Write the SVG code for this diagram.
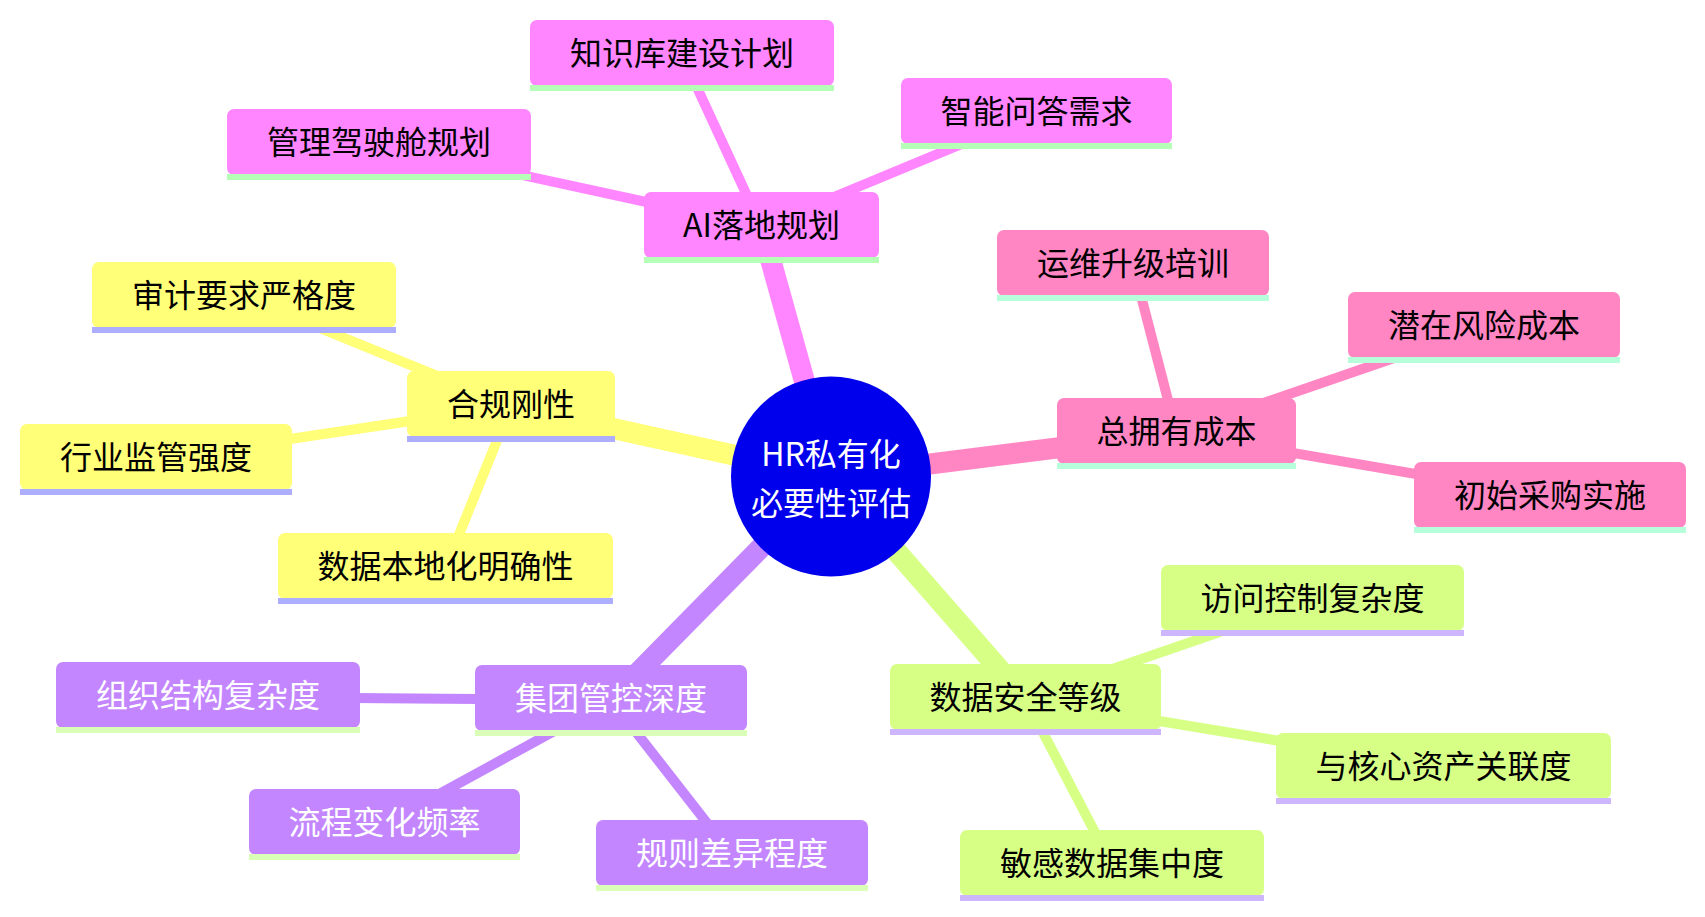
<svg xmlns="http://www.w3.org/2000/svg" width="1705" height="917" viewBox="0 0 1705 917">
<style>
text{font-family:"Noto Sans CJK SC","Noto Sans",sans-serif;font-size:32px;text-anchor:middle;dominant-baseline:central}
.e{fill:none;stroke-linecap:butt}
.e0{stroke-width:21}
.e1{stroke-width:10}
.ey{stroke:#FFFF78}.eg{stroke:#D7FF86}.ep{stroke:#C386FF}.em{stroke:#FF86FF}.ek{stroke:#FF86C3}
.y rect.b{fill:#FFFF78}.y rect.s{fill:#AEAEFF}.y text{fill:#000}
.g rect.b{fill:#D7FF86}.g rect.s{fill:#CEB6FF}.g text{fill:#000}
.p rect.b{fill:#C386FF}.p rect.s{fill:#DAFFB6}.p text{fill:#fff}
.m rect.b{fill:#FF86FF}.m rect.s{fill:#B6FFB6}.m text{fill:#000}
.k rect.b{fill:#FF86C3}.k rect.s{fill:#B6FFDA}.k text{fill:#000}
</style>
<rect width="1705" height="917" fill="#fff"/>
<g id="connectors">
<line class="e e1 em" x1="761.5" y1="227" x2="682" y2="55"/>
<line class="e e1 em" x1="761.5" y1="227" x2="1036.5" y2="113"/>
<line class="e e1 em" x1="761.5" y1="227" x2="379" y2="144"/>
<line class="e e1 ey" x1="511" y1="406" x2="244" y2="297"/>
<line class="e e1 ey" x1="511" y1="406" x2="156" y2="459"/>
<line class="e e1 ey" x1="511" y1="406" x2="445.5" y2="568"/>
<line class="e e1 ek" x1="1176.5" y1="433" x2="1133" y2="265"/>
<line class="e e1 ek" x1="1176.5" y1="433" x2="1484" y2="327"/>
<line class="e e1 ek" x1="1176.5" y1="433" x2="1550" y2="497"/>
<line class="e e1 eg" x1="1025.5" y1="699" x2="1312.5" y2="600"/>
<line class="e e1 eg" x1="1025.5" y1="699" x2="1443.5" y2="768"/>
<line class="e e1 eg" x1="1025.5" y1="699" x2="1112" y2="865"/>
<line class="e e1 ep" x1="611" y1="700" x2="208" y2="697"/>
<line class="e e1 ep" x1="611" y1="700" x2="384.5" y2="824"/>
<line class="e e1 ep" x1="611" y1="700" x2="732" y2="855"/>
<line class="e e0 em" x1="831" y1="476.5" x2="761.5" y2="227"/>
<line class="e e0 ey" x1="831" y1="476.5" x2="511" y2="406"/>
<line class="e e0 ek" x1="831" y1="476.5" x2="1176.5" y2="433"/>
<line class="e e0 eg" x1="831" y1="476.5" x2="1025.5" y2="699"/>
<line class="e e0 ep" x1="831" y1="476.5" x2="611" y2="700"/>
</g>
<g id="root">
<circle cx="831" cy="476.5" r="100" fill="#0000EC"/>
<text x="831" y="452" fill="#fff">HR私有化</text>
<text x="831" y="501" fill="#fff">必要性评估</text>
</g>
<g id="n-ai" class="m" transform="translate(644,192)"><rect class="b" width="235" height="66" rx="7"/><rect class="s" y="65" width="235" height="6"/><text x="117.5" y="31">AI落地规划</text></g>
<g id="n-kb" class="m" transform="translate(530,20)"><rect class="b" width="304" height="66" rx="7"/><rect class="s" y="65" width="304" height="6"/><text x="152" y="31">知识库建设计划</text></g>
<g id="n-qa" class="m" transform="translate(901,78)"><rect class="b" width="271" height="66" rx="7"/><rect class="s" y="65" width="271" height="6"/><text x="135.5" y="31">智能问答需求</text></g>
<g id="n-cockpit" class="m" transform="translate(227,109)"><rect class="b" width="304" height="66" rx="7"/><rect class="s" y="65" width="304" height="6"/><text x="152" y="31">管理驾驶舱规划</text></g>
<g id="n-comp" class="y" transform="translate(407,371)"><rect class="b" width="208" height="66" rx="7"/><rect class="s" y="65" width="208" height="6"/><text x="104" y="31">合规刚性</text></g>
<g id="n-audit" class="y" transform="translate(92,262)"><rect class="b" width="304" height="66" rx="7"/><rect class="s" y="65" width="304" height="6"/><text x="152" y="31">审计要求严格度</text></g>
<g id="n-reg" class="y" transform="translate(20,424)"><rect class="b" width="272" height="66" rx="7"/><rect class="s" y="65" width="272" height="6"/><text x="136" y="31">行业监管强度</text></g>
<g id="n-local" class="y" transform="translate(278,533)"><rect class="b" width="335" height="66" rx="7"/><rect class="s" y="65" width="335" height="6"/><text x="167.5" y="31">数据本地化明确性</text></g>
<g id="n-tco" class="k" transform="translate(1057,398)"><rect class="b" width="239" height="66" rx="7"/><rect class="s" y="65" width="239" height="6"/><text x="119.5" y="31">总拥有成本</text></g>
<g id="n-ops" class="k" transform="translate(997,230)"><rect class="b" width="272" height="66" rx="7"/><rect class="s" y="65" width="272" height="6"/><text x="136" y="31">运维升级培训</text></g>
<g id="n-risk" class="k" transform="translate(1348,292)"><rect class="b" width="272" height="66" rx="7"/><rect class="s" y="65" width="272" height="6"/><text x="136" y="31">潜在风险成本</text></g>
<g id="n-init" class="k" transform="translate(1414,462)"><rect class="b" width="272" height="66" rx="7"/><rect class="s" y="65" width="272" height="6"/><text x="136" y="31">初始采购实施</text></g>
<g id="n-sec" class="g" transform="translate(890,664)"><rect class="b" width="271" height="66" rx="7"/><rect class="s" y="65" width="271" height="6"/><text x="135.5" y="31">数据安全等级</text></g>
<g id="n-acc" class="g" transform="translate(1161,565)"><rect class="b" width="303" height="66" rx="7"/><rect class="s" y="65" width="303" height="6"/><text x="151.5" y="31">访问控制复杂度</text></g>
<g id="n-asset" class="g" transform="translate(1276,733)"><rect class="b" width="335" height="66" rx="7"/><rect class="s" y="65" width="335" height="6"/><text x="167.5" y="31">与核心资产关联度</text></g>
<g id="n-sens" class="g" transform="translate(960,830)"><rect class="b" width="304" height="66" rx="7"/><rect class="s" y="65" width="304" height="6"/><text x="152" y="31">敏感数据集中度</text></g>
<g id="n-grp" class="p" transform="translate(475,665)"><rect class="b" width="272" height="66" rx="7"/><rect class="s" y="65" width="272" height="6"/><text x="136" y="31">集团管控深度</text></g>
<g id="n-org" class="p" transform="translate(56,662)"><rect class="b" width="304" height="66" rx="7"/><rect class="s" y="65" width="304" height="6"/><text x="152" y="31">组织结构复杂度</text></g>
<g id="n-proc" class="p" transform="translate(249,789)"><rect class="b" width="271" height="66" rx="7"/><rect class="s" y="65" width="271" height="6"/><text x="135.5" y="31">流程变化频率</text></g>
<g id="n-rule" class="p" transform="translate(596,820)"><rect class="b" width="272" height="66" rx="7"/><rect class="s" y="65" width="272" height="6"/><text x="136" y="31">规则差异程度</text></g>
</svg>
